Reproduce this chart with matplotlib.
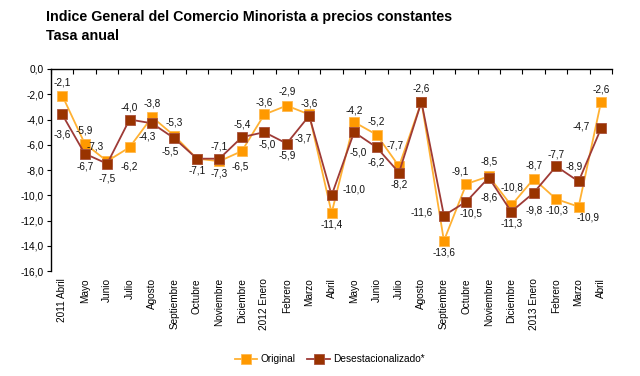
import matplotlib
matplotlib.use("Agg")
import matplotlib.pyplot as plt
from matplotlib.ticker import FixedLocator, FuncFormatter

plt.rcParams["font.family"] = ["Liberation Sans", "DejaVu Sans"]

months = [
    "2011 Abril", "Mayo", "Junio", "Julio", "Agosto", "Septiembre", "Octubre",
    "Noviembre", "Diciembre", "2012 Enero", "Febrero", "Marzo", "Abril", "Mayo",
    "Junio", "Julio", "Agosto", "Septiembre", "Octubre", "Noviembre", "Diciembre",
    "2013 Enero", "Febrero", "Marzo", "Abril",
]
original = [
    -2.1, -5.9, -7.3, -6.2, -3.8, -5.3, -7.1, -7.3, -6.5, -3.6, -2.9, -3.6,
    -11.4, -4.2, -5.2, -7.7, -2.6, -13.6, -9.1, -8.5, -10.8, -8.7, -10.3, -10.9, -2.6,
]
desest = [
    -3.6, -6.7, -7.5, -4.0, -4.3, -5.5, -7.1, -7.1, -5.4, -5.0, -5.9, -3.7,
    -10.0, -5.0, -6.2, -8.2, -2.6, -11.6, -10.5, -8.6, -11.3, -9.8, -7.7, -8.9, -4.7,
]

# label offsets in pixels (dx, dy), y up; None = label shared with other series
orig_off = [
    (0, 13), (0, 13), (-12, 15), (0, -19), (0, 13), (0, 13), None, (0, -12),
    (-2, -15), (0, 12), (0, 14), (0, 11), (0, -12), (0, 12), (0, 13), (-4, 21),
    (0, 13), (0, -12), (-6, 12), (0, 15), (1, 18), (0, 13), (1, -11), (9, -11), (0, 12),
]
desest_off = [
    (0, -20), (0, -13), (0, -15), (0, 12), (-5, -13), (-4, -13), (0, -12), (0, 12),
    (0, 13), (3, -12), (0, -12), (-6, -23), (22, 6), (4, -20), (0, -15), (0, -12),
    None, (-22, 3), (5, -12), (0, -20), (0, -12), (0, -18), (0, 12), (-4, 15), (-20, 2),
]

ORANGE = "#FF9900"
ORANGE_LINE = "#FFB133"
BROWN = "#993300"
BROWN_LINE = "#9E3A36"

fig = plt.figure(figsize=(6.4, 3.76), dpi=100)
ax = fig.add_axes([0.0797, 0.279, 0.877, 0.5375])

x = list(range(len(months)))
ax.plot(x, original, color=ORANGE_LINE, lw=1.3, marker="s", ms=7.5,
        mfc=ORANGE, mec="#FFB84D", mew=0.6, label="Original", zorder=3)
ax.plot(x, desest, color=BROWN_LINE, lw=1.3, marker="s", ms=7.5,
        mfc=BROWN, mec="#A8503A", mew=0.6, label="Desestacionalizado*", zorder=4)

def fmt(v):
    return f"{v:.1f}".replace(".", ",")

for series, offsets in ((original, orig_off), (desest, desest_off)):
    for xi, v, off in zip(x, series, offsets):
        if off is None:
            continue
        ax.annotate(fmt(v), (xi, v), xytext=off, textcoords="offset pixels",
                    ha="center", va="center", fontsize=7.2, color="#111111", zorder=5)

ax.set_xlim(-0.5, len(months) - 0.5)
ax.set_ylim(-16, 0)
ax.set_yticks([0, -2, -4, -6, -8, -10, -12, -14, -16])
ax.yaxis.set_major_formatter(FuncFormatter(lambda v, p: fmt(v)))

ax.set_xticks(x)
ax.set_xticklabels(months, rotation=90, fontsize=7.2)
ax.xaxis.set_minor_locator(FixedLocator([i - 0.5 for i in range(len(months) + 1)]))
ax.tick_params(axis="x", which="major", length=0, pad=5, bottom=True, top=False)
ax.tick_params(axis="x", which="minor", top=True, bottom=False, direction="in",
               length=3.5, width=0.8)
ax.tick_params(axis="y", direction="out", length=3, width=0.8, labelsize=7.3, pad=2)

ax.spines["right"].set_visible(False)
ax.spines["bottom"].set_visible(False)
ax.spines["top"].set_linewidth(1.0)
ax.spines["left"].set_linewidth(1.0)

fig.text(0.072, 0.955, "Indice General del Comercio Minorista a precios constantes",
         fontsize=10.3, fontweight="bold", va="center")
fig.text(0.072, 0.905, "Tasa anual", fontsize=10.3, fontweight="bold", va="center")

fig.legend(loc="center", bbox_to_anchor=(0.515, 0.045), ncol=2, frameon=False,
           fontsize=7.3, handlelength=2.2, columnspacing=1.2, handletextpad=0.3,
           markerscale=0.9)

fig.savefig("out.png", dpi=100)
